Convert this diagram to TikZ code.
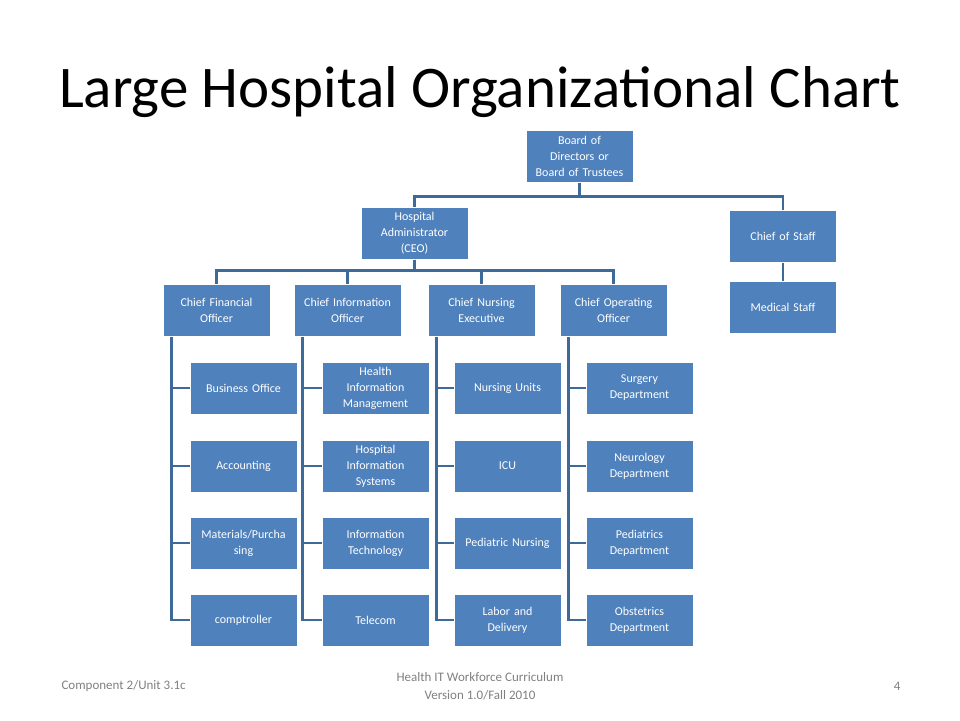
\documentclass[tikz,border=0pt]{standalone}
\usepackage{fontspec}
\setmainfont{Carlito}
\usepackage{xcolor}
\usetikzlibrary{positioning}
\definecolor{boxblue}{HTML}{4F81BD}
\definecolor{linkblue}{HTML}{3E6A9A}
\tikzset{
  unit/.style={draw=white, line width=1pt, fill=boxblue, text=white, minimum width=107pt, minimum height=52pt, text width=104pt, align=center, inner sep=1pt, font=\fontsize{12}{16}\selectfont},
  link/.style={draw=linkblue, line width=2.5pt}
}
\begin{document}
\begin{tikzpicture}[x=1pt,y=1pt]
  \useasboundingbox (0,0) rectangle (960,-720);
  \node[font=\fontsize{59}{64}\selectfont] (title) at (480,-92) {Large Hospital Organizational Chart};
  % top levels
  \node[unit] (board) at (579.5,-156) {Board of\\Directors or\\Board of Trustees};
  \node[unit] (ceo) at (414.5,-233) {Hospital\\Administrator\\(CEO)};
  \node[unit] (cos) at (783,-236) {Chief of Staff};
  \node[unit] (med) at (783,-307.5) {Medical Staff};
  \node[unit, anchor=north] (cfo) at (216.5,-284) {Chief Financial\\Officer};
  \node[unit, anchor=north] (cio) at (347.5,-284) {Chief Information\\Officer};
  \node[unit, anchor=north] (cne) at (481.5,-284) {Chief Nursing\\Executive};
  \node[unit, anchor=north] (coo) at (613.5,-284) {Chief Operating\\Officer};
  % departments
  \foreach \n/\x/\a/\b/\c/\d in {cfo/243.5/Business Office/Accounting/{Materials/Purcha\\sing}/comptroller,
      cio/375.5/{Health\\Information\\Management}/{Hospital\\Information\\Systems}/{Information\\Technology}/Telecom,
      cne/507.5/Nursing Units/ICU/Pediatric Nursing/{Labor and\\Delivery},
      coo/639.5/{Surgery\\Department}/{Neurology\\Department}/{Pediatrics\\Department}/{Obstetrics\\Department}}{
    \node[unit] (\n1) at (\x,-388) {\a};
    \node[unit] (\n2) at (\x,-466) {\b};
    \node[unit] (\n3) at (\x,-543) {\c};
    \node[unit] (\n4) at (\x,-620) {\d};
    \coordinate (\n v) at ([xshift=9pt]\n.south west);
    \draw[link] (\n v) |- (\n4.west);
    \foreach \k in {1,2,3}
      \draw[link] (\n v |- \n\k.west) -- (\n\k.west);
  }
  % connectors
  \draw[link] (board.south) -- ++(0,-14) -| (ceo.north);
  \draw[link] (board.south) -- ++(0,-14) -| (cos.north);
  \draw[link] (cos.south) -- (med.north);
  \foreach \n in {cfo,cio,cne,coo}
    \draw[link] (ceo.south) -- ++(0,-11) -| (\n.north);
  % footer
  \node[text=gray, font=\fontsize{13}{15}\selectfont, anchor=west] (comp) at (58,-686) {Component 2/Unit 3.1c};
  \node[text=gray, font=\fontsize{13}{18}\selectfont, align=center] (curr) at (480,-686) {Health IT Workforce Curriculum\\Version 1.0/Fall 2010};
  \node[text=gray, font=\fontsize{13}{15}\selectfont, anchor=east] (page) at (904,-686) {4};
\end{tikzpicture}
\end{document}
